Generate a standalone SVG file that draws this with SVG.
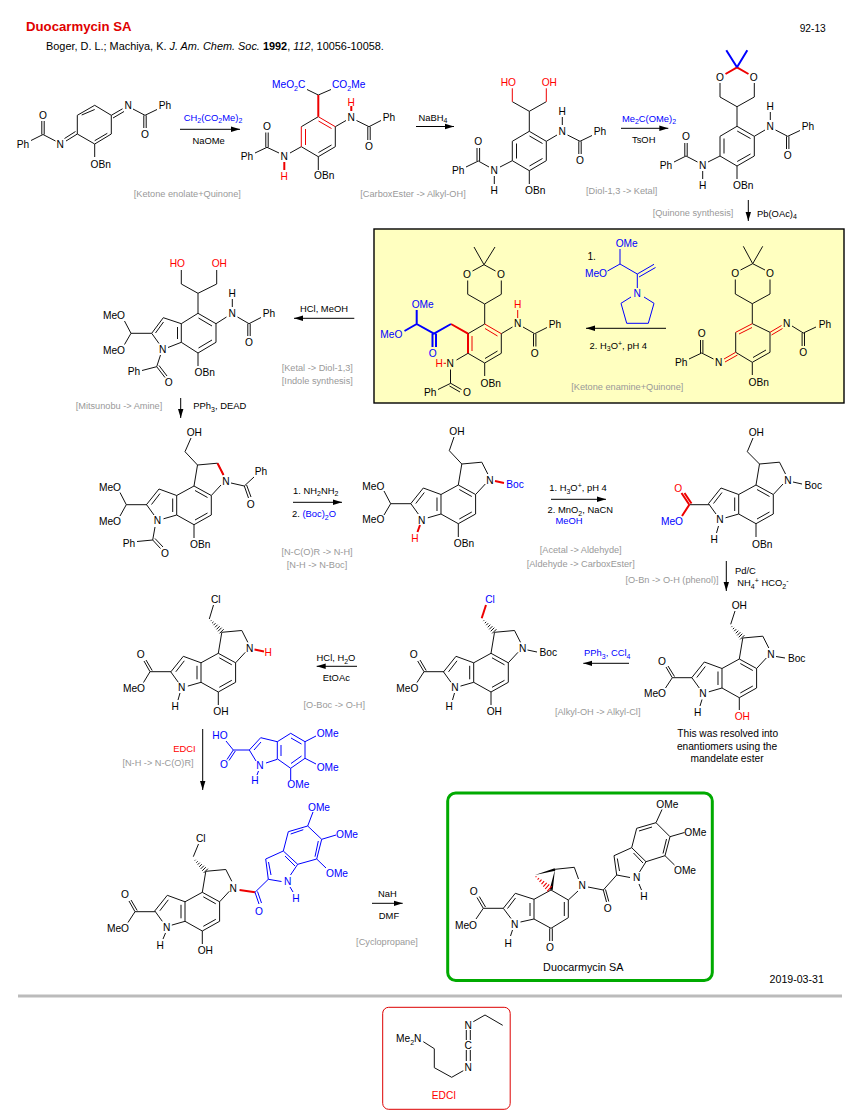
<svg xmlns="http://www.w3.org/2000/svg" width="854" height="1117" viewBox="0 0 854 1117">
<style>
text{font-family:"Liberation Sans",Arial,sans-serif;fill:#000}
.a{font-size:10.2px;text-anchor:middle;dominant-baseline:central}
.f{font-size:10.2px;text-anchor:middle}
.g{font-size:9.2px;text-anchor:middle;fill:#999}
.c{font-size:9.4px;text-anchor:middle}
.s{font-size:7px}
.bl{fill:#00f}
.re{fill:#f00}
.b,.r,.R,.u,.U{fill:none;stroke-linecap:butt}
.b{stroke:#111;stroke-width:1}
.r{stroke:#e00;stroke-width:1}
.R{stroke:#e00;stroke-width:2}
.u{stroke:#00f;stroke-width:1}
.U{stroke:#00f;stroke-width:2}
.arrow{fill:none;stroke:#000;stroke-width:1;marker-end:url(#head)}
</style>
<defs>
<marker id="head" markerUnits="userSpaceOnUse" markerWidth="10" markerHeight="8" refX="9" refY="3.5" orient="auto"><path d="M0 0.8L9 3.5L0 6.2Z" fill="#000"/></marker>
<path id="core" class="b" d="M0 0L17.3 9.5V29L0 38.7L-17.3 29V9.5ZM-17.3 9.5L-35 3L-47.5 18.6L-40 29M-30.5 32.8L-17.3 29M0 0L3.5 -21L23.5 -22.8L29.5 -11M27 -1L17.3 9.5M-21.3 12.5V26M-34 7.5L-42.5 18.5M1 4.5L13.5 11.5M13.5 27L1 34"/>
<path id="hash" class="b" d="M1.4 -2.8L-2.8 1.4M-.7 -4.3L-4.3 -.7M-2.6 -5.8L-5.8 -2.6M-4.7 -7.3L-7.3 -4.7M-6.8 -8.8L-8.8 -6.8M-8.8 -10.2L-10.2 -8.8M-10.9 -11.7L-11.7 -10.9"/>
</defs>
<rect width="854" height="1117" fill="#fff"/>
<g id="box-step">
<rect x="374" y="229" width="470" height="174" fill="#ffffc0" stroke="#000" stroke-width="1.4"/>
</g>
<g id="header">
<text x="26" y="31" style="font-size:13.2px;font-weight:bold;fill:#e00000">Duocarmycin SA</text>
<text x="46" y="50" style="font-size:10.9px">Boger, D. L.; Machiya, K. <tspan font-style="italic">J. Am. Chem. Soc.</tspan> <tspan font-weight="bold">1992</tspan>, <tspan font-style="italic">112</tspan>, 10056-10058.</text>
<text x="812.7" y="31.5" class="f">92-13</text>
</g>
<g id="connectors">
<line class="arrow" x1="180" y1="129.3" x2="240" y2="129.3"/>
<line class="arrow" x1="416" y1="126.5" x2="454" y2="126.5"/>
<line class="arrow" x1="621" y1="128.3" x2="668.3" y2="128.3"/>
<line class="arrow" x1="748.3" y1="200" x2="748.3" y2="221"/>
<line class="arrow" x1="666" y1="328.3" x2="586" y2="328.3"/>
<line class="arrow" x1="354.3" y1="318.3" x2="294" y2="318.3"/>
<line class="arrow" x1="180.7" y1="398" x2="180.7" y2="418"/>
<line class="arrow" x1="293" y1="502.3" x2="342" y2="502.3"/>
<line class="arrow" x1="551" y1="499.3" x2="606" y2="499.3"/>
<line class="arrow" x1="726.3" y1="561" x2="726.3" y2="591"/>
<line class="arrow" x1="629" y1="663.3" x2="583.3" y2="663.3"/>
<line class="arrow" x1="357" y1="666.3" x2="316.7" y2="666.3"/>
<line class="arrow" x1="202.7" y1="729" x2="202.7" y2="790"/>
<line class="arrow" x1="372" y1="903.3" x2="402.7" y2="903.3"/>
</g>
<g id="labels">
<text x="213" y="120.5" class="c bl">CH<tspan class="s" dy="2.5">2</tspan><tspan dy="-2.5">(CO</tspan><tspan class="s" dy="2.5">2</tspan><tspan dy="-2.5">Me)</tspan><tspan class="s" dy="2.5">2</tspan></text>
<text x="208.7" y="144" class="c">NaOMe</text>
<text x="187.3" y="197" class="g">[Ketone enolate+Quinone]</text>
<text x="433" y="120.5" class="c">NaBH<tspan class="s" dy="2.5">4</tspan></text>
<text x="413" y="197" class="g">[CarboxEster -&gt; Alkyl-OH]</text>
<text x="649" y="121.5" class="c bl">Me<tspan class="s" dy="2.5">2</tspan><tspan dy="-2.5">C(OMe)</tspan><tspan class="s" dy="2.5">2</tspan></text>
<text x="643.7" y="143" class="c">TsOH</text>
<text x="621.7" y="194.2" class="g">[Diol-1,3 -&gt; Ketal]</text>
<text x="693" y="216" class="g">[Quinone synthesis]</text>
<text x="757" y="216.5" class="c" style="text-anchor:start">Pb(OAc)<tspan class="s" dy="2.5">4</tspan></text>
<text x="324" y="312" class="c">HCl, MeOH</text>
<text x="317.3" y="371" class="g">[Ketal -&gt; Diol-1,3]</text>
<text x="317.3" y="384" class="g">[Indole synthesis]</text>
<text x="119" y="409" class="g">[Mitsunobu -&gt; Amine]</text>
<text x="193.3" y="409" class="c" style="text-anchor:start">PPh<tspan class="s" dy="2.5">3</tspan><tspan dy="-2.5">, DEAD</tspan></text>
<text x="315.7" y="493.5" class="c">1. NH<tspan class="s" dy="2.5">2</tspan><tspan dy="-2.5">NH</tspan><tspan class="s" dy="2.5">2</tspan></text>
<text x="314" y="517" class="c">2. <tspan class="bl">(Boc)</tspan><tspan class="s bl" dy="2.5">2</tspan><tspan class="bl" dy="-2.5">O</tspan></text>
<text x="317" y="555" class="g">[N-C(O)R -&gt; N-H]</text>
<text x="317" y="568" class="g">[N-H -&gt; N-Boc]</text>
<text x="578" y="491.3" class="c">1. H<tspan class="s" dy="2.5">3</tspan><tspan dy="-2.5">O</tspan><tspan class="s" dy="-3">+</tspan><tspan dy="3">, pH 4</tspan></text>
<text x="580.3" y="513" class="c">2. MnO<tspan class="s" dy="2.5">2</tspan><tspan dy="-2.5">, NaCN</tspan></text>
<text x="569" y="523.6" class="c bl">MeOH</text>
<text x="580.7" y="553.3" class="g">[Acetal -&gt; Aldehyde]</text>
<text x="580.7" y="567.3" class="g">[Aldehyde -&gt; CarboxEster]</text>
<text x="672" y="583.3" class="g">[O-Bn -&gt; O-H (phenol)]</text>
<text x="735" y="574" class="c" style="text-anchor:start">Pd/C</text>
<text x="737.3" y="586" class="c" style="text-anchor:start">NH<tspan class="s" dy="2.5">4</tspan><tspan class="s" dy="-5.5">+</tspan><tspan dy="3"> HCO</tspan><tspan class="s" dy="2.5">2</tspan><tspan class="s" dy="-5.5">-</tspan></text>
<text x="607.3" y="656.3" class="c bl">PPh<tspan class="s" dy="2.5">3</tspan><tspan dy="-2.5">, CCl</tspan><tspan class="s" dy="2.5">4</tspan></text>
<text x="597.7" y="715.3" class="g">[Alkyl-OH -&gt; Alkyl-Cl]</text>
<text x="336" y="661" class="c">HCl, H<tspan class="s" dy="2.5">2</tspan><tspan dy="-2.5">O</tspan></text>
<text x="336.3" y="681" class="c">EtOAc</text>
<text x="334.3" y="708.3" class="g">[O-Boc -&gt; O-H]</text>
<text x="195.7" y="751.6" class="c re" style="text-anchor:end">EDCI</text>
<text x="158" y="766" class="g">[N-H -&gt; N-C(O)R]</text>
<text x="387.3" y="897" class="c">NaH</text>
<text x="389" y="919" class="c">DMF</text>
<text x="387" y="945.3" class="g">[Cyclopropane]</text>
<text x="727.7" y="737" class="f">This was resolved into</text>
<text x="727" y="749.5" class="f">enantiomers using the</text>
<text x="727" y="762" class="f">mandelate ester</text>
<text x="796.7" y="982.7" style="font-size:10.6px;text-anchor:middle">2019-03-31</text>
<rect x="18" y="994.5" width="824" height="3" fill="#bbb"/>
</g>
<g id="mol1">
<path class="b" d="M94.7 105.3L111.3 115.3V134L94.7 144L77.3 134V115.3ZM81.7 115L94.7 109.5M107.3 133.3L94.7 140.7M111.3 115.3L122.5 108.8M113 118L124 111.5M133 109L145 115.3M143.8 115.3V128M146.2 115.3V128M145 115.3L157 109.5M77.3 134L66 141M75.5 131.5L64.5 138.5M55.5 141L43 134.5M41.8 134.5V121M44.2 134.5V121M43 134.5L31 140.5M94.7 144V157"/>
<text class="a" x="128.3" y="105.3">N</text><text class="a" x="145" y="134.3">O</text><text class="a" x="165" y="105.3">Ph</text><text class="a" x="60.3" y="144">N</text><text class="a" x="43" y="115.3">O</text><text class="a" x="23" y="144">Ph</text><text class="a" x="100.7" y="164">OBn</text>
</g>
<g id="mol2">
<path class="b" d="M318.3 116.7L301.3 126.7M335.3 126.7V146.7L318.3 156.7L301.3 146.7M331.5 145L318.5 152.5M318.3 95L307 89.5M318.3 95L331 89.5M335.3 126.7L346 120.5M356.5 120.5L369 126.7M367.8 126.7V140M370.2 126.7V140M369 126.7L381 120.5M301.3 146.7L290 153M279 153L267 147.3M265.8 147.3V132.5M268.2 147.3V132.5M267 147.3L255 153M318.3 156.7V170"/>
<path class="r" d="M318.3 116.7L335.3 126.7M318.5 121L331.5 128.5M301.3 126.7V146.7M305.5 129V145"/>
<path class="R" d="M318.3 116.7V95M351.3 111V106M284.3 162V170"/>
<text x="288.7" y="88" class="f bl">MeO<tspan class="s" dy="2.5">2</tspan><tspan dy="-2.5">C</tspan></text><text x="348.7" y="88" class="f bl">CO<tspan class="s" dy="2.5">2</tspan><tspan dy="-2.5">Me</tspan></text>
<text class="a" x="351.3" y="117.3">N</text><text class="a re" x="351.3" y="102.3">H</text><text class="a" x="369" y="146">O</text><text class="a" x="389" y="117.3">Ph</text><text class="a" x="284.3" y="156">N</text><text class="a re" x="284.3" y="176">H</text><text class="a" x="267" y="126">O</text><text class="a" x="247" y="156">Ph</text><text class="a" x="324.3" y="175.7">OBn</text>
</g>
<g id="mol3">
<path class="b" d="M529.3 131.3L546.3 141.3V160.7L529.3 170.7L512.3 160.7V141.3ZM516.5 143.5V158.5M529.5 136L542.5 143.5M542.5 158.5L529.5 166M529.3 131.3V111.3L512.3 101.7M529.3 111.3L546.3 101.7M546.3 141.3L557 135M567.5 135L580 141.3M578.8 141.3V154M581.2 141.3V154M580 141.3L592 135.5M562.3 117V125M512.3 160.7L500 167M489 167L478.3 161M477 161V148M479.6 161V148M478.3 161L466 167M494.3 176V184M529.3 170.7V184"/>
<path class="r" d="M512.3 88.3V101.7M546.3 88.3V101.7"/>
<text class="a re" x="508.3" y="82.3">HO</text><text class="a re" x="549.3" y="82.3">OH</text><text class="a" x="562.3" y="131.3">N</text><text class="a" x="562.3" y="111.3">H</text><text class="a" x="580" y="160.3">O</text><text class="a" x="600" y="131.3">Ph</text><text class="a" x="494.3" y="170.3">N</text><text class="a" x="494.3" y="190.3">H</text><text class="a" x="478.3" y="141.3">O</text><text class="a" x="458.3" y="170.3">Ph</text><text class="a" x="535.3" y="190.3">OBn</text>
</g>
<g id="mol4">
<path class="b" d="M737 126.3L754.3 136.3V156L737 166L720 156V136.3ZM724 138.5V153.5M737.2 131L750.5 138.5M750.5 154L737.2 161.5M737 126.3V106.7L720 97V83M737 106.7L754.3 97V83M754.3 136.3L765 130M775.5 130L787.7 136.3M786.5 136.3V149M788.9 136.3V149M787.7 136.3L800 130.5M770.3 112V120M720 156L708 162M697.5 162L686 156M684.8 156V143M687.2 156V143M686 156L674 162M702.7 171V179M737 166V179"/>
<path class="R" d="M725.5 74L737 67.3L748.5 74"/>
<path class="U" d="M737 67.3L726.3 50.3M737 67.3L747.3 50.3"/>
<text class="a" x="720" y="77.3">O</text><text class="a" x="753.7" y="77.3">O</text><text class="a" x="770.3" y="126.3">N</text><text class="a" x="770.3" y="106.3">H</text><text class="a" x="787.7" y="155">O</text><text class="a" x="808" y="126.3">Ph</text><text class="a" x="702.7" y="165.3">N</text><text class="a" x="702.7" y="185.3">H</text><text class="a" x="686" y="136.3">O</text><text class="a" x="666" y="165.3">Ph</text><text class="a" x="743.3" y="185.3">OBn</text>
</g>
<g id="mol5">
<path class="b" d="M198 313.3L216 323.7V342.3L198 353L181.3 342.3V323.7ZM177.5 327V339M198.5 318L212 326M212 340L198.5 348M181.3 323.7L163.3 317.7L151.7 333.3L159 343.5M168 347.5L181.3 342.3M163.5 322L155.5 333M198 313.3V293.3L181.3 284V270M198 293.3L216.7 284V270M216 323.7L226.5 317M237.5 317L249 323.7M247.8 323.7V336M250.2 323.7V336M249 323.7L261 317.5M232.3 299V307M151.7 333.3H131L124.5 321M131 333.3L124.5 344.5M160.5 355L156.7 366.7L142 370.5M156.7 366.7L165 377.5M159 365.5L167 376M198 353V366"/>
<text class="a re" x="177.3" y="263">HO</text><text class="a re" x="219.3" y="263">OH</text><text class="a" x="232.3" y="313.3">N</text><text class="a" x="232.3" y="293.3">H</text><text class="a" x="249" y="342.3">O</text><text class="a" x="269" y="313.3">Ph</text><text class="a" x="114" y="315.3">MeO</text><text class="a" x="114" y="350">MeO</text><text class="a" x="162.7" y="349.3">N</text><text class="a" x="134" y="371">Ph</text><text class="a" x="168.7" y="382.3">O</text><text class="a" x="204.7" y="372">OBn</text>
</g>
<g id="mol6">
<path class="b" d="M484.7 324L468 333.7M501.3 333.7V353.3L484.7 363L468 353.3M497.5 351L485 358.5M484.7 324V304L467.7 294.3V280.5M484.7 304L501.3 294.3V280.5M472.5 271L484 264.7L495.5 271M484 264.7L474 247M484 264.7L495 247M501.3 333.7L512.5 327M523 327L534.7 333.7M533.5 333.7V346.5M535.9 333.7V346.5M534.7 333.7L547 327.5M468 353.3L456.5 360M450.5 369.5V383.3M450.7 383.3L438 389.5M450.7 383.3L461.5 389.5M449.5 386L460 392M484.7 363V376"/>
<path class="r" d="M484.7 324L501.3 333.7M485 328.5L497.5 336M472 336V351M517.7 310V318M443.5 363.3H446"/>
<path class="R" d="M468 333.7V353.3M468 333.7L451 324"/>
<path class="U" d="M451 324L434 333.7L416.7 324V310M416.7 324L404.5 331M432.5 333.7V347M436 333.7V347"/>
<text class="a" x="467" y="274.3">O</text><text class="a" x="501" y="274.3">O</text><text class="a" x="517.7" y="323.7">N</text><text class="a re" x="517.7" y="304">H</text><text class="a" x="534.7" y="353">O</text><text class="a" x="555" y="324">Ph</text><text class="a" x="450.3" y="363.3">N</text><text class="a re" x="439.3" y="363.3">H</text><text class="a" x="430.3" y="392.7">Ph</text><text class="a" x="467" y="392.3">O</text><text class="a" x="490.7" y="383">OBn</text><text class="a bl" x="432.7" y="353">O</text><text class="a bl" x="422.7" y="304">OMe</text><text class="a bl" x="391.3" y="334">MeO</text>
</g>
<g id="reagent-enamine">
<path class="u" d="M620 264V249M620 264L607.5 271M620 264L637.3 274M637.3 274L654 264.3M639 277L655.5 267.5M637.3 274V288M644 297L654 303.3L648.3 323.3H626.7L621 303.3L631 297"/>
<text class="a" x="591.7" y="256">1.</text><text class="a bl" x="626.7" y="243">OMe</text><text class="a bl" x="596" y="273">MeO</text><text class="a bl" x="637.3" y="293.3">N</text>
<text x="618.3" y="348.5" class="c">2. H<tspan class="s" dy="2.5">3</tspan><tspan dy="-2.5">O</tspan><tspan class="s" dy="-3">+</tspan><tspan dy="3">, pH 4</tspan></text>
<text x="627.3" y="390" class="g">[Ketone enamine+Quinone]</text>
</g>
<g id="mol7">
<path class="b" d="M735.7 332.3V352.3M752.3 323.7L770 332.3V352.3L752.3 362.3L735.7 352.3M766 350L753 357.5M752.3 323.7V303.7L735.3 294V279.5M752.3 303.7L770 294V279.5M740.5 270L752.7 263.7L765 270M752.7 263.7L743.3 246.3M752.7 263.7L762.7 246.3M792 326L803.3 333M802.1 333V346M804.5 333V346M803.3 333L816 327M713.5 359L701.7 353M700.5 353V340M702.9 353V340M701.7 353L689 359M752.3 362.3V375"/>
<path class="r" d="M735.7 332.3L752.3 323.7M739 334L752 327.5M770 332.3L781.5 325.5M771.5 335L782.5 328.5M735.7 352.3L724 359M737.5 355L725 362"/>
<text class="a" x="735.3" y="273.3">O</text><text class="a" x="770" y="273.3">O</text><text class="a" x="786.7" y="323.3">N</text><text class="a" x="803.3" y="352.3">O</text><text class="a" x="825" y="324">Ph</text><text class="a" x="718.7" y="362.3">N</text><text class="a" x="701.7" y="333">O</text><text class="a" x="681.3" y="362">Ph</text><text class="a" x="758.7" y="382">OBn</text>
</g>
<g id="mol8">
<use href="#core" x="194" y="486"/>
<path class="b" d="M197.5 465L185 451.7L191 438M231 483L244.3 486L254 477M244.3 486L248.5 498M246.6 485L251 497M147 504.7H126.3L120 492.5M126.3 504.7L120 516M155 527L152.7 540L137 541.5M152.7 540L160.5 548.5M155 538.5L163 547M194 524.7V538"/>
<path class="R" d="M217.5 463.2L223.5 475"/>
<text class="a" x="226" y="481">N</text><text class="a" x="157.5" y="520.5">N</text><text class="a" x="194.3" y="432">OH</text><text class="a" x="261" y="471.3">Ph</text><text class="a" x="250.7" y="504.3">O</text><text class="a" x="110" y="487.3">MeO</text><text class="a" x="110" y="521">MeO</text><text class="a" x="129" y="543.3">Ph</text><text class="a" x="165" y="553.3">O</text><text class="a" x="200.3" y="544">OBn</text>
</g>
<g id="mol9">
<use href="#core" x="458.3" y="485"/>
<path class="b" d="M461.8 464L449.3 450.7L454 437M411 503.7H390.7L384 491M390.7 503.7L384 515M458.3 523.7V537"/>
<path class="R" d="M420 525L417.5 532M495 481L504 483"/>
<text class="a" x="490" y="480">N</text><text class="a" x="421.7" y="520">N</text><text class="a re" x="415" y="538.3">H</text><text class="a" x="457" y="431">OH</text><text class="a bl" x="515" y="484">Boc</text><text class="a" x="373.3" y="486">MeO</text><text class="a" x="373.3" y="519.7">MeO</text><text class="a" x="464" y="543">OBn</text>
</g>
<g id="mol10">
<use href="#core" x="756" y="485"/>
<path class="b" d="M759.5 464L747.3 451.7L753 438M793 482L802 484M709.3 504.7H689.3M718.5 526L716.5 533M756 523.7V537"/>
<path class="R" d="M689.3 504.7L681.5 493M691.5 503.5L684.5 493M689.3 504.7L682 516"/>
<text class="a" x="788" y="480.5">N</text><text class="a" x="720" y="519.5">N</text><text class="a" x="714.3" y="539">H</text><text class="a" x="756.3" y="432">OH</text><text class="a" x="813.3" y="485.3">Boc</text><text class="a re" x="678.3" y="488">O</text><text class="a bl" x="672" y="521.3">MeO</text><text class="a" x="762.3" y="544">OBn</text>
</g>
<g id="mol10b">
<use href="#core" x="739.3" y="659"/>
<use href="#hash" x="743" y="638"/>
<path class="b" d="M730.7 624.3L735 611M776 656.5L785 658M692 677.7H672.3M672.3 677.7L666 667M674.5 676.5L668 666M672.3 677.7L665.5 688M702 699.5L700 706M739.3 697.7V710"/>
<text class="a" x="771" y="654">N</text><text class="a" x="703" y="693">N</text><text class="a" x="697.7" y="712.3">H</text><text class="a" x="796.7" y="658.3">Boc</text><text class="a" x="739.3" y="605">OH</text><text class="a" x="662" y="661">O</text><text class="a" x="655" y="693.7">MeO</text><text class="a re" x="742.3" y="716.3">OH</text>
</g>
<g id="mol11">
<use href="#core" x="491" y="653.3"/>
<use href="#hash" x="495" y="632"/>
<path class="b" d="M527.5 650L537 652M444 671.7H424M424 671.7L417.7 661M426.2 670.5L420 660M424 671.7L417 682.5M454.5 693L452.5 700M491 692V705"/>
<path class="R" d="M481.7 618.3L486 605"/>
<text class="a" x="522.7" y="648.3">N</text><text class="a" x="455" y="687.3">N</text><text class="a" x="449.3" y="706.3">H</text><text class="a" x="548.3" y="652.3">Boc</text><text class="a bl" x="490" y="599">Cl</text><text class="a" x="413.7" y="654.3">O</text><text class="a" x="407.3" y="688.3">MeO</text><text class="a" x="494.3" y="711">OH</text>
</g>
<g id="mol12">
<use href="#core" x="218.3" y="653.3"/>
<use href="#hash" x="222.3" y="632"/>
<path class="b" d="M209.3 619L213.5 605M171 671.7H150M150 671.7L144 661M152.2 670.5L146 660M150 671.7L143.5 682.5M180 693L178 700M218.3 692V705"/>
<path class="R" d="M254.5 649.5L264 651.5"/>
<text class="a" x="249.7" y="648.3">N</text><text class="a" x="181.7" y="687.3">N</text><text class="a" x="175.3" y="706.3">H</text><text class="a re" x="268.3" y="652">H</text><text class="a" x="215.7" y="599">Cl</text><text class="a" x="140.7" y="654.3">O</text><text class="a" x="134" y="688.3">MeO</text><text class="a" x="221" y="711">OH</text>
</g>
<g id="acid">
<path class="u" d="M249.3 750H233.3M233.3 750L226 741M233.3 750L227 759.5M235.3 751L229 760.5M249.3 750L260.7 737.7L277.3 741.7V759.3L266 763M256 761L249.3 750M261 742L254 750M277.3 741.7L290.7 733.3L305 741.7V758.3L290.7 768.3L278 759.3M281 745V756M291 738L301.5 744M301.5 756L291 763.5M305 741.7L316 736M305 758.3L316 764M290.7 768.3V780M258.5 771L257 775"/>
<text class="a bl" x="220" y="735.7">HO</text><text class="a bl" x="224" y="764.3">O</text><text class="a bl" x="260" y="765">N</text><text class="a bl" x="255" y="780">H</text><text class="a bl" x="327.7" y="733.7">OMe</text><text class="a bl" x="327.7" y="767.7">OMe</text><text class="a bl" x="298.3" y="784">OMe</text>
</g>
<g id="mol13">
<use href="#core" x="202.3" y="892.3"/>
<use href="#hash" x="206.5" y="871.5"/>
<path class="b" d="M193.3 856.7L198.5 844M155 911.7H135M135 911.7L129 901M137.2 910.5L131 900M135 911.7L128 922.5M165.5 933L163 939M202.3 931V944"/>
<path class="R" d="M239.5 890L255 892.3"/>
<path class="u" d="M255 892.3L259 904M257.5 891.5L261.5 903M255 892.3L268.3 879.3L265.7 859L283.3 851L297.7 864.3L290.5 875M281.5 881.5L268.3 879.3M283.3 851L288.3 831.7L307.7 826L321.7 839.3L316.7 859L297.7 864.3M271 875L268.5 862M285 856L295 866M290.7 834L303.3 829.7M318.3 841L315 856.7M307.7 826L313 812M321.7 839.3L336 835M316.7 859L326 868M290 887L293 892"/>
<text class="a" x="233.3" y="888.3">N</text><text class="a" x="166.7" y="927.7">N</text><text class="a" x="160.3" y="945">H</text><text class="a" x="200.7" y="838.3">Cl</text><text class="a" x="125" y="894.3">O</text><text class="a" x="118" y="928">MeO</text><text class="a" x="205.3" y="950">OH</text><text class="a bl" x="259" y="911">O</text><text class="a bl" x="287.7" y="881">N</text><text class="a bl" x="296" y="898.3">H</text><text class="a bl" x="319" y="807">OMe</text><text class="a bl" x="347" y="834.3">OMe</text><text class="a bl" x="337" y="873">OMe</text>
</g>
<g id="mol14">
<rect x="447.7" y="793" width="264.6" height="187.5" rx="8" fill="none" stroke="#0a0" stroke-width="3"/>
<path class="b" d="M551 890L568.3 900V917.7L551 928.3L534 919V899.3L551 890M564.3 902V916M530 903V916M549.7 928.3V941M552.3 928.3V941M534 899.3L515.3 893.3L503.3 908.3L511 918.5M520.5 922L534 919M515.5 898L507.5 908.5M503.3 908.3H483.3M483.3 908.3L477 897.5M485.5 907L479.3 896.5M483.3 908.3L476 919M512.5 930L510.5 936M568.3 900L578 891M578.5 879L574.3 867.3L555 869.3M588 887L603.3 890M603.3 890L606.5 902M605.5 889.5L608.8 901.5M603.3 890L616.7 875L614 855.7L631.7 847.7L646 861.7L639.5 872M630 877.5L616.7 875M631.7 847.7L636.7 828.3L656 822.7L670 836.7L665 855.7L646 861.7M619.5 871L617.3 858.5M633.5 853L643 863M639 831L652 827M666.5 839L663 853.5M656 822.7L662 809.5M670 836.7L684.5 832.5M665 855.7L674.5 865M639 884L641.5 890"/>
<path fill="#000" d="M555 869.3L549.7 889.5L552.7 890ZM535 875L555.3 870.8L554.7 868.2Z"/>
<path fill="none" stroke="#e00" stroke-width="1.1" d="M551.8 886.1L547.2 891.3M549.2 884.4L545.2 889M546.7 882.8L543.3 886.6M544.1 881.2L541.5 884.2M541.5 879.7L539.5 881.9M539 878L537.6 879.6M536.4 876.4L535.6 877.2"/>
<text class="a" x="582.3" y="885">N</text><text class="a" x="514.7" y="924">N</text><text class="a" x="508.3" y="943.3">H</text><text class="a" x="550" y="947.3">O</text><text class="a" x="473.7" y="891">O</text><text class="a" x="466" y="925">MeO</text><text class="a" x="607.7" y="908.3">O</text><text class="a" x="636.7" y="877.7">N</text><text class="a" x="644" y="896">H</text><text class="a" x="667.3" y="804.3">OMe</text><text class="a" x="695.3" y="832.3">OMe</text><text class="a" x="685" y="870.3">OMe</text>
<text x="583.3" y="970.5" style="font-size:10.8px;text-anchor:middle">Duocarmycin SA</text>
</g>
<g id="edci">
<rect x="382.7" y="1007.3" width="127.5" height="102" rx="6" fill="none" stroke="#d00" stroke-width="1"/>
<path class="b" d="M423.3 1041.7L434.3 1048.7V1067.7L451.7 1077.3L463.3 1070.7M466.3 1030V1040M470.3 1030V1040M466.3 1050V1061M470.3 1050V1061M473.3 1021.7L485 1015L502.7 1025.3"/>
<text x="408.7" y="1042" class="f">Me<tspan class="s" dy="2.5">2</tspan><tspan dy="-2.5">N</tspan></text>
<text class="a" x="468.3" y="1067">N</text><text class="a" x="468.3" y="1045">C</text><text class="a" x="468.3" y="1025">N</text><text class="a re" x="444" y="1095">EDCI</text>
</g>
</svg>
